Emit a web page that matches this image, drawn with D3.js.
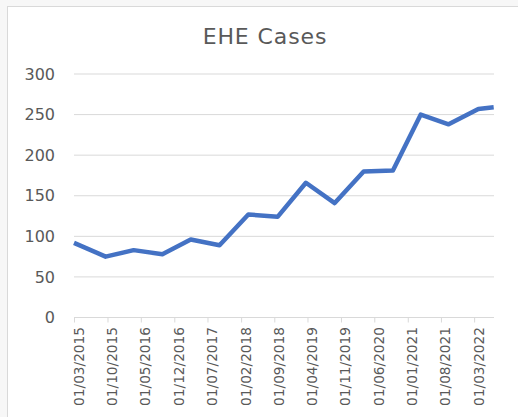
<!DOCTYPE html>
<html>
<head>
<meta charset="utf-8">
<script src="https://cdn.jsdelivr.net/npm/d3@7"></script>
<style>
  body { margin: 0; background: #f7f7f7; }
  svg { display: block; }
  .axis text { font-family: "DejaVu Sans", sans-serif; fill: #595959; }
</style>
</head>
<body>
<svg id="chart" width="518" height="417"></svg>
<script>
// data
var dates = ["2015-03-01", "2015-09-19", "2016-03-16", "2016-09-16", "2017-03-16",
             "2017-09-16", "2018-03-19", "2018-09-22", "2019-03-22", "2019-09-22",
             "2020-03-25", "2020-09-28", "2021-03-25", "2021-09-19", "2022-03-28",
             "2022-07-04"];
var cases = [92, 75, 83, 78, 96, 89, 127, 124, 166, 141, 180, 181, 250, 238, 257, 259];
var tickLabels = ["01/03/2015", "01/10/2015", "01/05/2016", "01/12/2016", "01/07/2017",
                  "01/02/2018", "01/09/2018", "01/04/2019", "01/11/2019", "01/06/2020",
                  "01/01/2021", "01/08/2021", "01/03/2022"];
var yTicks = [0, 50, 100, 150, 200, 250, 300];

var parse = d3.timeParse("%Y-%m-%d");
var parseLabel = d3.timeParse("%d/%m/%Y");
var data = dates.map(function(d, i) { return {date: parse(d), value: cases[i]}; });
var tickDates = tickLabels.map(function(t) { return parseLabel(t); });

var svg = d3.select("#chart");

// chart area with border
svg.append("rect")
    .attr("x", 7.5)
    .attr("y", 6.5)
    .attr("width", 520)
    .attr("height", 420)
    .attr("fill", "#ffffff")
    .attr("stroke", "#d9d9d9")
    .attr("stroke-width", 1);

var plotLeft = 74, plotRight = 494, plotTop = 74, plotBottom = 317.5;

var x = d3.scaleTime()
    .domain([parse("2015-03-01"), parse("2022-07-06")])
    .range([plotLeft, plotRight]);
var y = d3.scaleLinear()
    .domain([0, 300])
    .range([plotBottom, plotTop]);

// title
svg.append("text")
    .attr("x", 265)
    .attr("y", 44)
    .attr("text-anchor", "middle")
    .style("font-family", "DejaVu Sans, sans-serif")
    .style("font-size", "22px")
    .style("letter-spacing", "0.9px")
    .style("fill", "#595959")
    .text("EHE Cases");

// gridlines
svg.append("g")
    .selectAll("line")
    .data(yTicks.filter(function(d) { return d > 0; }))
    .enter().append("line")
    .attr("x1", plotLeft)
    .attr("x2", plotRight)
    .attr("y1", function(d) { return y(d); })
    .attr("y2", function(d) { return y(d); })
    .attr("stroke", "#d9d9d9")
    .attr("stroke-width", 1);

// y axis
var yAxis = svg.append("g")
    .attr("class", "axis y")
    .attr("transform", "translate(" + plotLeft + ",0)")
    .call(d3.axisLeft(y).tickValues(yTicks).tickSize(0).tickPadding(19));
yAxis.select(".domain").remove();
yAxis.selectAll("text").style("font-size", "16px");

// x axis
var xAxis = svg.append("g")
    .attr("class", "axis x")
    .attr("transform", "translate(0," + plotBottom + ")")
    .call(d3.axisBottom(x)
        .tickValues(tickDates)
        .tickSize(5)
        .tickFormat(function(d, i) { return tickLabels[i]; }));
xAxis.select(".domain")
    .attr("stroke", "#d9d9d9")
    .attr("d", "M" + plotLeft + ",0H" + plotRight);
xAxis.selectAll(".tick line").attr("stroke", "#d9d9d9");
xAxis.selectAll("text")
    .style("font-size", "13.7px")
    .style("text-anchor", "end")
    .attr("x", 0)
    .attr("y", 0)
    .attr("dy", 0)
    .attr("transform", "translate(9,9.5) rotate(-90)");

// the line
var line = d3.line()
    .x(function(d) { return x(d.date); })
    .y(function(d) { return y(d.value); });

svg.append("path")
    .datum(data)
    .attr("fill", "none")
    .attr("stroke", "#4472c4")
    .attr("stroke-width", 4.5)
    .attr("stroke-linejoin", "round")
    .attr("d", line);
</script>
</body>
</html>
